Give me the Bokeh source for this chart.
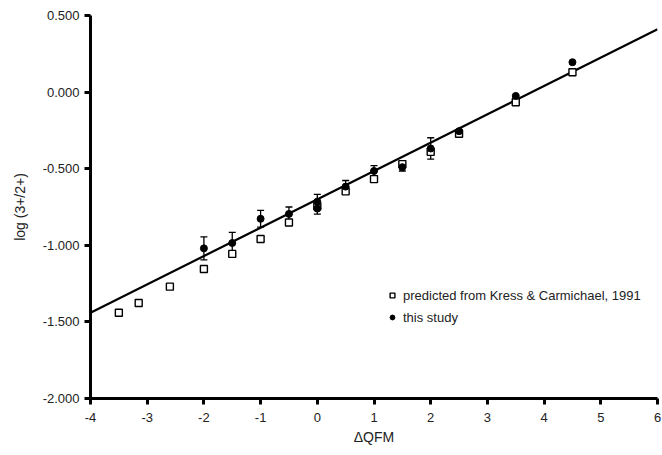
from bokeh.plotting import figure
from bokeh.models import (ColumnDataSource, Whisker, TeeHead, FixedTicker,
                          NumeralTickFormatter, Legend, LegendItem, Range1d)
from bokeh.embed import file_html
from bokeh.resources import INLINE

# ---- data ----
pred_x = [-3.5, -3.15, -2.6, -2.0, -1.5, -1.0, -0.5, 0.0, 0.5, 1.0, 1.5, 2.0, 2.5, 3.5, 4.5]
pred_y = [-1.44, -1.377, -1.27, -1.155, -1.056, -0.959, -0.851, -0.745, -0.648, -0.568,
          -0.47, -0.39, -0.272, -0.066, 0.13]

study_x = [-2.0, -1.5, -1.0, -0.5, 0.0, 0.0, 0.5, 1.0, 1.5, 2.0, 2.5, 3.5, 4.5]
study_y = [-1.02, -0.985, -0.827, -0.795, -0.715, -0.76, -0.617, -0.515, -0.49, -0.368,
           -0.255, -0.025, 0.195]
study_err = [0.075, 0.07, 0.055, 0.045, 0.048, 0.037, 0.04, 0.035, 0.025, 0.07, 0.01, 0.0, 0.0]

fit_slope = 0.185
fit_intercept = -0.70
fit_x = [-4.0, 6.0]

x_ticks = [-4, -3, -2, -1, 0, 1, 2, 3, 4, 5, 6]
y_ticks = [-2.0, -1.5, -1.0, -0.5, 0.0, 0.5]

x_label = "ΔQFM"
y_label = "log (3+/2+)"
legend_pred = "predicted from Kress & Carmichael, 1991"
legend_study = "this study"

FONT = "Liberation Sans"

p = figure(width=662, height=455, output_backend="svg", toolbar_location=None,
           x_range=Range1d(-4, 6), y_range=Range1d(-2.0, 0.5),
           min_border_left=90, min_border_right=5, min_border_top=15, min_border_bottom=57)
p.outline_line_color = None
p.xgrid.visible = False
p.ygrid.visible = False
p.background_fill_color = "white"
p.border_fill_color = "white"

# regression line
fit_y = [fit_intercept + fit_slope * v for v in fit_x]
p.line(fit_x, fit_y, line_color="black", line_width=2.2)

# predicted (open squares)
r_pred = p.scatter(pred_x, pred_y, marker="square", size=7, fill_color="white",
                   line_color="black", line_width=1.4)

# this study with error bars
ex = [x for x, e in zip(study_x, study_err) if e > 0]
ey = [y for y, e in zip(study_y, study_err) if e > 0]
ee = [e for e in study_err if e > 0]
err_src = ColumnDataSource(dict(x=ex, upper=[y + e for y, e in zip(ey, ee)],
                                lower=[y - e for y, e in zip(ey, ee)]))
w = Whisker(source=err_src, base="x", upper="upper", lower="lower", dimension="height",
            line_color="black", line_width=1.3,
            upper_head=TeeHead(size=7, line_color="black", line_width=1.3),
            lower_head=TeeHead(size=7, line_color="black", line_width=1.3))
p.add_layout(w)
r_study = p.scatter(study_x, study_y, marker="circle", size=7, fill_color="black",
                    line_color="black")

# axes
for ax in (p.xaxis[0], p.yaxis[0]):
    ax.axis_line_width = 3
    ax.axis_line_color = "black"
    ax.major_tick_line_width = 3
    ax.major_tick_line_color = "black"
    ax.major_tick_out = 6
    ax.major_tick_in = 0
    ax.minor_tick_line_color = None
    ax.major_label_text_font = FONT
    ax.major_label_text_font_size = "13px"
    ax.major_label_text_color = "#222222"
    ax.axis_label_text_font = FONT
    ax.axis_label_text_font_size = "14px"
    ax.axis_label_text_font_style = "normal"
    ax.axis_label_text_color = "#222222"

p.xaxis.ticker = FixedTicker(ticks=x_ticks)
p.yaxis.ticker = FixedTicker(ticks=y_ticks)
p.xaxis.formatter = NumeralTickFormatter(format="0")
p.yaxis.formatter = NumeralTickFormatter(format="0.000")
p.xaxis.axis_label = x_label
p.yaxis.axis_label = y_label
p.xaxis.major_label_standoff = 8
p.yaxis.major_label_standoff = 5
p.xaxis.axis_label_standoff = 4
p.yaxis.axis_label_standoff = 12

legend = Legend(items=[LegendItem(label=legend_pred, renderers=[r_pred]),
                       LegendItem(label=legend_study, renderers=[r_study])],
                location=(296, 71), orientation="vertical",
                border_line_color=None, background_fill_alpha=0,
                padding=0, spacing=2, margin=0,
                glyph_width=12, glyph_height=12, label_height=20,
                label_standoff=5,
                label_text_font=FONT, label_text_font_size="13px",
                label_text_color="#222222")
p.add_layout(legend)

open("out.html", "w").write(file_html(p, INLINE))
